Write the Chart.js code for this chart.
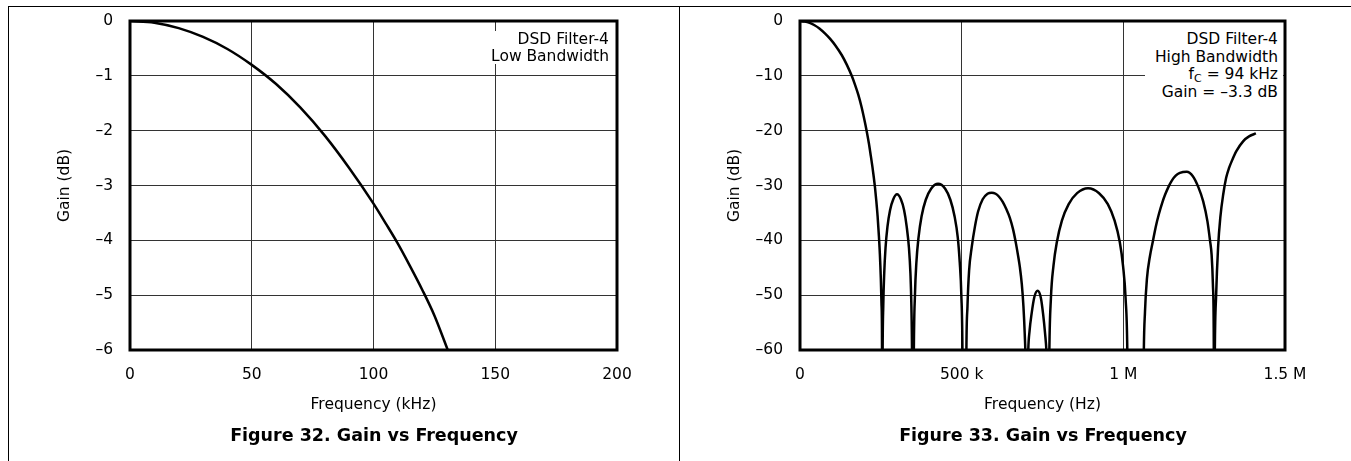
<!DOCTYPE html>
<html lang="en">
<head>
<meta charset="UTF-8">
<title>Gain vs Frequency</title>
<script src="https://cdn.jsdelivr.net/npm/chart.js@4.4.0/dist/chart.umd.min.js"></script>
<style>
  body { margin: 0; background: #fff; font-family: "DejaVu Sans", sans-serif; }
  .page { position: relative; width: 1351px; height: 461px; overflow: hidden; }
  .page canvas { position: absolute; top: 0; }
  .rule { position: absolute; background: #000; }
  .note { position: absolute; text-align: right; font-size: 15.5px; line-height: 17.7px; color: #000; background: #fff; white-space: nowrap; }
  .note sub { font-size: 11px; line-height: 0; vertical-align: -3px; }
  .caption { position: absolute; top: 425px; width: 500px; text-align: center; font-weight: bold; font-size: 17.5px; color: #000; }
</style>
</head>
<body>
<div class="page">
  <canvas id="fig32" width="679" height="461" style="left:0"></canvas>
  <canvas id="fig33" width="672" height="461" style="left:679px"></canvas>

  <div class="rule" style="left:8px; top:6px; width:1343px; height:1px"></div>
  <div class="rule" style="left:8px; top:6px; width:1px; height:455px"></div>
  <div class="rule" style="left:679px; top:6px; width:1px; height:455px"></div>

  <div class="note" style="right:742px; top:31px; line-height:16.5px">DSD Filter-4<br>Low Bandwidth</div>
  <div class="note" style="right:68px; top:23px; padding:8px 5px 10px 10px">DSD Filter-4<br>High Bandwidth<br>f<sub>C</sub> = 94 kHz<br>Gain = &ndash;3.3 dB</div>

  <div class="caption" style="left:124px">Figure 32. Gain vs Frequency</div>
  <div class="caption" style="left:793px">Figure 33. Gain vs Frequency</div>
</div>

<script>
// Figure 32 - low bandwidth (kHz, dB)
var freqLow = [0, 10, 20, 30, 40, 50, 60, 70, 80, 90, 100, 105, 110, 115, 120, 125, 130.5];
var gainLow = [0, -0.03, -0.13, -0.29, -0.51, -0.8, -1.15, -1.58, -2.09, -2.68, -3.33, -3.69, -4.06, -4.47, -4.9, -5.37, -6.0];
var xTicksLow = [0, 50, 100, 150, 200];
var xLabelsLow = ['0', '50', '100', '150', '200'];
var yTicksLow = [0, -1, -2, -3, -4, -5, -6];
var yLabelsLow = ['0', '\u20131', '\u20132', '\u20133', '\u20134', '\u20135', '\u20136'];

// Figure 33 - high bandwidth (kHz, dB); -80 marks a null below the plot floor
var freqHigh = [
  0, 15, 30, 45, 60, 77, 94, 110, 129, 145, 160, 170, 180, 190, 198, 206, 213, 219, 224, 228, 232, 236, 240, 244, 247, 250, 252, 253.5, 254.5,
  255.5, 257.5, 260.5, 264.5, 270.5, 278.5, 288.5, 300, 312, 322, 330, 337, 341.5, 344.5, 346.5, 348,
  350.5, 352, 355.5, 360, 366.5, 376, 389, 405.5, 427, 449, 465, 478, 488, 494, 499, 502.5, 504,
  513, 514.5, 518, 523, 531, 541, 551, 565, 580, 593, 605, 615, 627, 638, 649, 659, 668, 675, 680, 686, 691, 695, 698, 701,
  704, 706, 710, 716, 725, 735, 745, 752, 758, 762, 766,
  768.5, 771, 776, 784, 794.5, 810, 831, 857, 891, 925, 952, 973, 989, 999, 1007, 1012.5, 1015,
  1061, 1063, 1067, 1073, 1082, 1092, 1100, 1110, 1120, 1129, 1140, 1150, 1162, 1175, 1196, 1215, 1232, 1247, 1260, 1268, 1273, 1277, 1279.5, 1281,
  1283, 1287, 1293, 1300, 1309, 1318, 1327, 1335, 1350, 1371, 1390, 1410];
var gainHigh = [
  0, -0.09, -0.34, -0.77, -1.35, -2.25, -3.3, -4.5, -6.2, -8, -10, -11.6, -13.4, -15.6, -17.7, -20, -22.3, -24.6, -26.6, -28.4, -30.4, -32.8, -35.6, -39.2, -42.5, -47, -51.5, -57, -80,
  -61, -52, -46, -41.4, -37.5, -34.5, -32.5, -31.6, -32.5, -34.5, -37.5, -41.4, -46, -52, -61, -80,
  -80, -61, -50, -44, -39.5, -35.6, -32.6, -30.6, -29.7, -30.6, -32.6, -35.6, -39.5, -44, -50, -61, -80,
  -80, -61, -52, -45.5, -41.3, -37.5, -34.7, -32.5, -31.5, -31.3, -31.5, -32, -33, -34.3, -35.9, -38, -40.6, -43, -44.9, -48, -52, -57, -63, -80,
  -66, -60, -56.5, -53.5, -50.3, -49.2, -50.5, -53.5, -57, -60, -66,
  -80, -61, -50.6, -44.6, -40.3, -36.4, -33.4, -31.4, -30.5, -31.4, -33.4, -36.4, -40.3, -44.6, -50.6, -61, -80,
  -80, -62, -53, -47, -43, -40, -37.6, -35.2, -33.2, -31.7, -30.2, -29.1, -28.2, -27.7, -27.5, -28.3, -30.3, -32.9, -36.5, -40, -42.6, -48, -56, -80,
  -60, -50, -41.3, -35.8, -31.6, -28.6, -26.8, -25.6, -23.7, -21.9, -21, -20.5];
var xTicksHigh = [0, 500, 1000, 1500];
var xLabelsHigh = ['0', '500 k', '1 M', '1.5 M'];
var yTicksHigh = [0, -10, -20, -30, -40, -50, -60];
var yLabelsHigh = ['0', '\u201310', '\u201320', '\u201330', '\u201340', '\u201350', '\u201360'];

var FONT = { family: 'DejaVu Sans', size: 15.5 };

var plotFrame = {
  id: 'plotFrame',
  afterDraw: function (chart) {
    var a = chart.chartArea, ctx = chart.ctx;
    ctx.save();
    ctx.lineWidth = 3;
    ctx.strokeStyle = '#000';
    ctx.strokeRect(a.left, a.top, a.right - a.left, a.bottom - a.top);
    ctx.restore();
  }
};

function makeChart(id, xs, ys, xTicks, xLabels, yTicks, yLabels, xTitle, pad, yWidth) {
  var pts = xs.map(function (x, i) { return { x: x, y: ys[i] }; });
  return new Chart(document.getElementById(id), {
    type: 'line',
    data: {
      datasets: [{
        data: pts,
        borderColor: '#000',
        borderWidth: 2.5,
        pointRadius: 0,
        fill: false,
        cubicInterpolationMode: 'monotone'
      }]
    },
    options: {
      responsive: false,
      animation: false,
      devicePixelRatio: 1,
      layout: { padding: pad },
      plugins: { legend: { display: false }, tooltip: { enabled: false } },
      scales: {
        x: {
          type: 'linear',
          min: xTicks[0],
          max: xTicks[xTicks.length - 1],
          afterBuildTicks: function (s) { s.ticks = xTicks.map(function (v) { return { value: v }; }); },
          afterFit: function (s) { s.height = 70; s.paddingLeft = 0; s.paddingRight = 0; },
          grid: { color: '#333', lineWidth: 1, drawTicks: false },
          border: { display: false },
          ticks: {
            padding: 16, color: '#000', font: FONT, maxRotation: 0,
            callback: function (v, i) { return xLabels[i]; }
          },
          title: { display: true, text: xTitle, color: '#000', font: FONT, padding: { top: 0, bottom: 6 } }
        },
        y: {
          min: yTicks[yTicks.length - 1],
          max: yTicks[0],
          afterBuildTicks: function (s) { s.ticks = yTicks.slice().reverse().map(function (v) { return { value: v }; }); },
          afterFit: function (s) { s.width = yWidth; s.paddingTop = 0; s.paddingBottom = 0; },
          grid: { color: '#333', lineWidth: 1, drawTicks: false },
          border: { display: false },
          ticks: {
            padding: 17, color: '#000', font: FONT,
            callback: function (v, i) { return yLabels[yLabels.length - 1 - i]; }
          },
          title: { display: true, text: 'Gain (dB)', color: '#000', font: FONT, padding: { top: 4, bottom: 0 } }
        }
      }
    },
    plugins: [plotFrame]
  });
}

makeChart('fig32', freqLow, gainLow, xTicksLow, xLabelsLow, yTicksLow, yLabelsLow,
  'Frequency (kHz)', { left: 52, top: 21, right: 62, bottom: 41 }, 78);
makeChart('fig33', freqHigh, gainHigh, xTicksHigh, xLabelsHigh, yTicksHigh, yLabelsHigh,
  'Frequency (Hz)', { left: 43, top: 21, right: 66, bottom: 41 }, 78);
</script>
</body>
</html>
